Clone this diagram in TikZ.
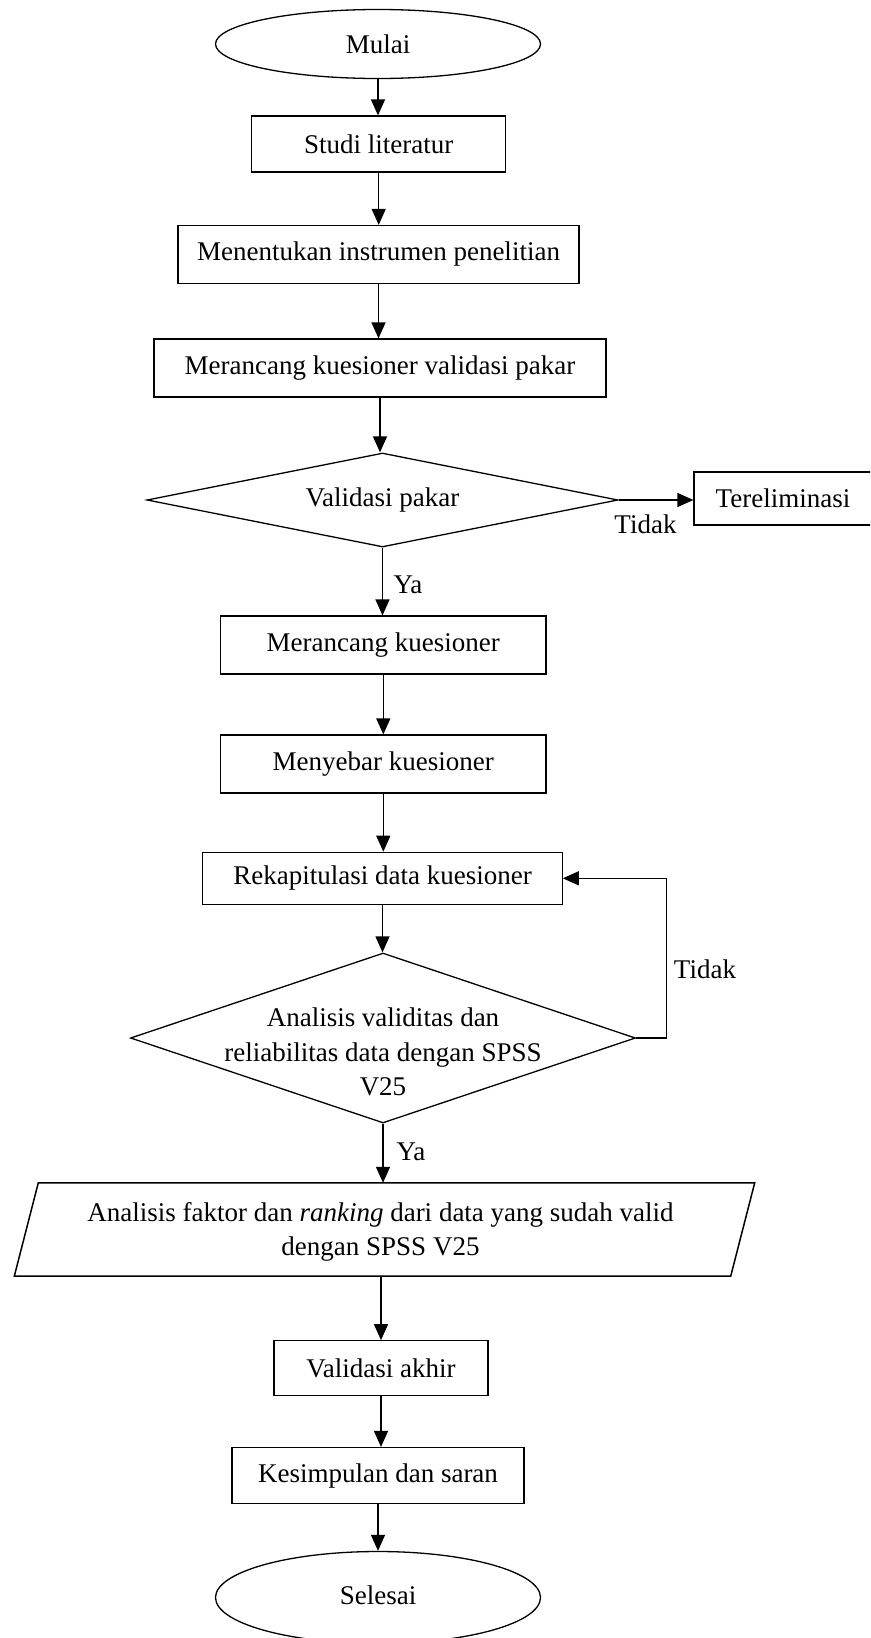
\documentclass[tikz,border=0pt]{standalone}
\usepackage{fontspec}
\setmainfont{Liberation Serif}
\usetikzlibrary{shapes.geometric,arrows.meta}
\begin{document}
\begin{tikzpicture}[x=1pt,y=-1pt,
  every node/.style={font=\fontsize{27}{34.5}\selectfont, inner sep=0pt},
  box/.style={draw, line width=1.2pt, rectangle},
  term/.style={draw, line width=1.3pt, ellipse},
  dia/.style={draw, line width=1.3pt, diamond},
  arr/.style={line width=1.3pt, -{Triangle[length=16pt,width=14pt]}},
  lbl/.style={}]
\useasboundingbox (0,0) rectangle (870,1638);
\clip (0,0) rectangle (870,1638);

\node[term, minimum width=325, minimum height=69] (mulai) at (378,44) {Mulai};
\node[box, minimum width=254, minimum height=56] (studi) at (378.7,144) {Studi literatur};
\node[box, minimum width=401, minimum height=58] (mi) at (378.5,254.5) {Menentukan instrumen penelitian};
\node[box, minimum width=452, minimum height=58] (mkvp) at (380,368) {Merancang kuesioner validasi pakar};
\node[dia, minimum width=471, minimum height=94] (vp) at (382.5,500) {};
\node at (382.5,500) {Validasi pakar};
\node[box, minimum width=178, minimum height=53] (ter) at (783,498.5) {};
\node at (783,498.5) {Tereliminasi};
\node[box, minimum width=325.4, minimum height=58] (mk) at (383.3,645) {Merancang kuesioner};
\node[box, minimum width=325.4, minimum height=58] (ms) at (383.3,764) {Menyebar kuesioner};
\node[box, minimum width=359.4, minimum height=52] (rekap) at (382.5,878.3) {Rekapitulasi data kuesioner};
\node[dia, minimum width=505, minimum height=170] (an) at (383,1038) {};
\node[align=center] at (383,1052) {Analisis validitas dan\\reliabilitas data dengan SPSS\\V25};
\node[minimum width=740, minimum height=93] (para) at (384.5,1229.5) {};
\draw[line width=1.5pt] ([xshift=24pt]para.north west) -- (para.north east)
  -- ([xshift=-24pt]para.south east) -- (para.south west) -- cycle;
\node[align=center] at (380.5,1232) {Analisis faktor dan \textit{ranking} dari data yang sudah valid\\dengan SPSS V25};
\node[box, minimum width=214, minimum height=54.5] (va) at (381,1368) {Validasi akhir};
\node[box, minimum width=292, minimum height=56] (ks) at (378,1475.5) {Kesimpulan dan saran};
\node[term, minimum width=325, minimum height=92] (sel) at (378,1597.5) {};
\node at (378,1595) {Selesai};

\draw[arr] (mulai.south) -- (mulai.south |- studi.north);
\draw[arr] (studi.south) -- (studi.south |- mi.north);
\draw[arr] (mi.south) -- (mi.south |- mkvp.north);
\draw[arr] (mkvp.south) -- (mkvp.south |- vp.north);
\draw[arr] (vp.east) -- (vp.east -| ter.west);
\draw[arr] (vp.south) -- (vp.south |- mk.north);
\draw[arr] (mk.south) -- (mk.south |- ms.north);
\draw[arr] (ms.south) -- (ms.south |- rekap.north);
\draw[arr] (rekap.south) -- (rekap.south |- an.north);
\draw[arr] (an.east) -- ++(30,0) |- (rekap.east);
\draw[arr] (an.south) -- (an.south |- para.north);
\draw[arr] (va.north |- para.south) -- (va.north);
\draw[arr] (va.south) -- (va.south |- ks.north);
\draw[arr] (ks.south) -- (ks.south |- sel.north);

\node[lbl] at (645.5,524) {Tidak};
\node[lbl] at (408,585) {Ya};
\node[lbl] at (705,969) {Tidak};
\node[lbl] at (411,1152) {Ya};
\end{tikzpicture}
\end{document}
